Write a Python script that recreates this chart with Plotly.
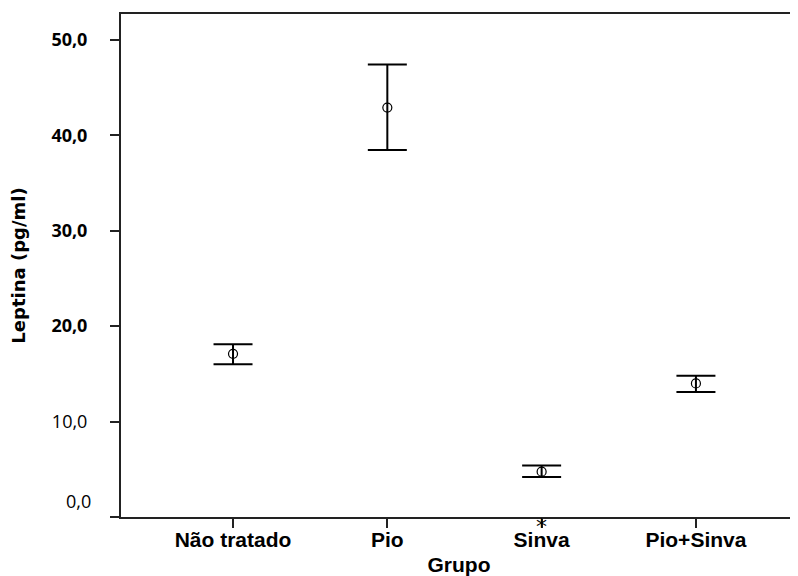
import plotly.graph_objects as go

categories = ["Não tratado", "Pio", "Sinva", "Pio+Sinva"]
means = [17.1, 42.9, 4.75, 14.0]
upper = [18.1, 47.4, 5.4, 14.8]
lower = [16.0, 38.45, 4.2, 13.1]
ytick_vals = [0, 10, 20, 30, 40, 50]
ytick_text = ["", "10,0", "<b>20,0</b>", "<b>30,0</b>", "<b>40,0</b>", "<b>50,0</b>"]
zero_label = "0,0"
marked_group = "Sinva"

xpos = list(range(len(categories)))
err_plus = [u - m for u, m in zip(upper, means)]
err_minus = [m - l for m, l in zip(means, lower)]

fig = go.Figure()
fig.add_trace(go.Scatter(
    x=xpos, y=means, mode="markers",
    marker=dict(symbol="circle-open", size=9, color="black", line=dict(width=1.2, color="black")),
    error_y=dict(type="data", symmetric=False, array=err_plus, arrayminus=err_minus,
                 color="black", thickness=2, width=19.5),
    showlegend=False,
))

fig.add_annotation(x=xpos[categories.index(marked_group)], y=0, xref="x", yref="y",
                   text="*", showarrow=False, yanchor="top", yshift=5,
                   font=dict(family="DejaVu Sans", size=22, color="black"))
fig.add_annotation(x=0, y=0, xref="paper", yref="y", text=zero_label, showarrow=False,
                   xanchor="right", xshift=-28, yshift=16,
                   font=dict(family="Open Sans", size=18, color="black"))

# page body has an 8px default margin, so the figure is sized to fit the window
fig.update_layout(
    width=790, height=568,
    margin=dict(l=113, r=1, t=6, b=59, autoexpand=False),
    paper_bgcolor="white", plot_bgcolor="white",
    xaxis=dict(
        range=[-0.726, 3.655], tickvals=xpos, ticktext=categories, automargin=False,
        showgrid=False, zeroline=False, showline=True, linecolor="#222", linewidth=2,
        mirror=True, ticks="outside", ticklen=9, tickwidth=1.5, tickcolor="#222",
        ticklabelstandoff=-6,
        tickfont=dict(family="Liberation Sans", size=21, color="black", weight="bold"),
        title=dict(text="<b>Grupo</b>", standoff=7,
                   font=dict(family="Liberation Sans", size=21, color="black")),
    ),
    yaxis=dict(
        range=[0, 52.7], tickvals=ytick_vals, ticktext=ytick_text, automargin=False,
        showgrid=False, zeroline=False, showline=True, linecolor="#222", linewidth=2,
        mirror=True, ticks="outside", ticklen=9, tickwidth=1.5, tickcolor="#222",
        ticklabelstandoff=19,
        tickfont=dict(family="Open Sans", size=18, color="black"),
        title=dict(text="<b>Leptina (pg/ml)</b>", standoff=22,
                   font=dict(family="DejaVu Sans", size=18, color="black")),
    ),
)

fig.write_html("out.html")
